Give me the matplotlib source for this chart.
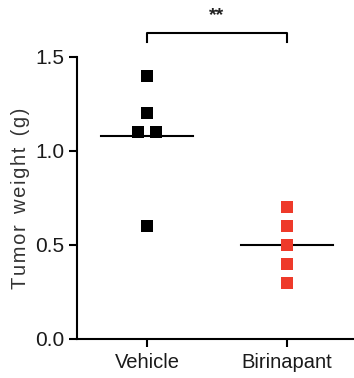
import numpy as np
import matplotlib
matplotlib.use("Agg")
import matplotlib.pyplot as plt

plt.rcParams["font.family"] = ["Liberation Sans", "DejaVu Sans"]

# tumour weights per mouse (g)
groups = ["Vehicle", "Birinapant"]
vehicle = [1.4, 1.2, 1.1, 1.1, 0.6]
birinapant = [0.7, 0.6, 0.5, 0.4, 0.3]
# horizontal spread of the points inside each group
vehicle_offset = [0.0, 0.0, -0.062, 0.062, 0.0]
birinapant_offset = [0.0, 0.0, 0.0, 0.0, 0.0]
y_ticks = [0.0, 0.5, 1.0, 1.5]

fig = plt.figure(figsize=(3.54, 3.78), dpi=100)
ax = fig.add_axes([77 / 354, 39 / 378, 1 - 77 / 354, 282 / 378])

ax.scatter(np.array(vehicle_offset) + 0, vehicle, marker="s", s=80,
           color="black", linewidths=0, zorder=3, clip_on=False)
ax.scatter(np.array(birinapant_offset) + 1, birinapant, marker="s", s=80,
           color="#ee3a2a", linewidths=0, zorder=3, clip_on=False)

# mean lines
for i, vals in enumerate([vehicle, birinapant]):
    m = np.mean(vals)
    ax.plot([i - 0.33, i + 0.33], [m, m], color="black", lw=1.5, zorder=2)

ax.set_xlim(-0.5, 1.48)
ax.set_ylim(0, 1.5)
ax.set_xticks([0, 1])
ax.set_xticklabels(groups, fontsize=14.5, color="#1a1a1a")
ax.set_yticks(y_ticks)
ax.set_yticklabels([f"{v:.1f}" for v in y_ticks], fontsize=15, color="#1a1a1a")
ax.tick_params(length=6, width=1.5, pad=3)
ax.tick_params(axis="x", pad=4)

for side in ["top", "right"]:
    ax.spines[side].set_visible(False)
for side in ["left", "bottom"]:
    ax.spines[side].set_linewidth(1.5)

# loosely tracked axis title
words = ["Tumor", "weight", "(g)"]
label = "  ".join("\u200a".join(w) for w in words)
ax.set_ylabel(label, fontsize=14.5, color="#333333", labelpad=4)

# significance bracket
y_top, y_drop = 1.626, 1.58
ax.plot([0, 0, 1, 1], [y_drop, y_top, y_top, y_drop], color="black", lw=1.5,
        clip_on=False)
ax.text(0.5, 1.675, "**", ha="center", va="bottom", fontsize=14,
        fontweight="bold", color="#222222")

fig.savefig("out.png", dpi=100)
